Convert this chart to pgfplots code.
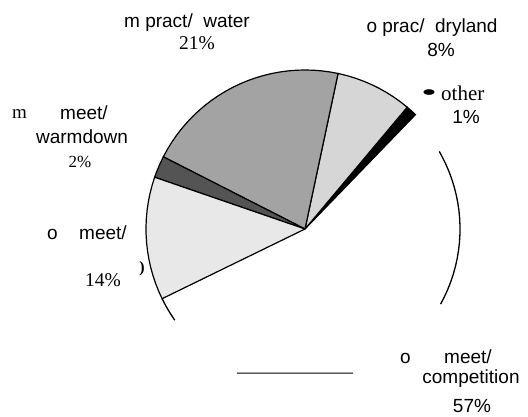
\documentclass[border=0pt]{standalone}
\usepackage{pgfplots}
\pgfplotsset{compat=1.18}
\usepgfplotslibrary{polar}
\usepackage{fontspec}
\setmainfont{Liberation Serif}
\newfontfamily\sans{Liberation Sans}
\newfontfamily\serif{Liberation Serif}
\definecolor{waterc}{gray}{0.64}
\definecolor{dryc}{gray}{0.84}
\definecolor{meetc}{gray}{0.91}
\definecolor{warmc}{gray}{0.33}
\begin{document}
\begin{tikzpicture}[x=1pt,y=1pt]
\path[use as bounding box] (0,0) rectangle (528,417);
\begin{polaraxis}[at={(305pt,188pt)}, anchor=center,
  scale only axis, width=318pt, height=318pt,
  xmin=0, xmax=360, ymin=0, ymax=1, enlargelimits=false,
  hide axis, clip=false]
% other 1%
\addplot[fill=black, draw=black, line width=1.2pt, mark=none] coordinates {(0,0) (46,1) (48,1) (50,1) (0,0)};
% prac/dryland 8%
\addplot[fill=dryc, draw=black, line width=1.2pt, mark=none] coordinates {(0,0) (50,1) (53,1) (56,1) (59,1) (62,1) (65,1) (68,1) (71,1) (74,1) (77,1) (78,1) (0,0)};
% pract/water 21%
\addplot[fill=waterc, draw=black, line width=1.2pt, mark=none] coordinates {(0,0) (78,1) (81,1) (84,1) (87,1) (90,1) (93,1) (96,1) (99,1) (102,1) (105,1) (108,1) (111,1) (114,1) (117,1) (120,1) (123,1) (126,1) (129,1) (132,1) (135,1) (138,1) (141,1) (144,1) (147,1) (150,1) (153,1) (0,0)};
% meet/warmdown 2%
\addplot[fill=warmc, draw=black, line width=1.2pt, mark=none] coordinates {(0,0) (153,1) (156,1) (159,1) (161,1) (0,0)};
% meet 14%
\addplot[fill=meetc, draw=black, line width=1.2pt, mark=none] coordinates {(0,0) (161,1) (164,1) (167,1) (170,1) (173,1) (176,1) (179,1) (182,1) (185,1) (188,1) (191,1) (194,1) (197,1) (200,1) (203,1) (206,1) (0,0)};
% remaining outline pieces of meet/competition 57%
\addplot[draw=black, line width=1.3pt, mark=none] coordinates {(206,1) (209,1) (212,1) (215,1)};
\addplot[draw=black, line width=1.3pt, mark=none] coordinates {(-29,0.975) (-26,0.975) (-23,0.975) (-20,0.975) (-17,0.975) (-14,0.975) (-11,0.975) (-8,0.975) (-5,0.975) (-2,0.975) (1,0.975) (4,0.975) (7,0.975) (10,0.975) (13,0.975) (16,0.975) (19,0.975) (22,0.975) (25,0.975) (28,0.975) (30,0.975)};
\addplot[data cs=cart, draw=black, line width=1pt, mark=none] coordinates {(-0.428,-0.906) (0.302,-0.906)};
\end{polaraxis}
\tikzset{lab/.style={anchor=base, inner sep=0pt}}
\def\sf{\sans\fontsize{19}{22}\selectfont}
% water
\node[lab, font=\sf] at (187,389) {m pract/\ \ water};
\node[lab, font=\serif\fontsize{19.5}{20}\selectfont] at (197,367) {21\%};
% dryland
\node[lab, font=\sf] at (432,384) {o prac/\ \ dryland};
\node[lab, font=\sf] at (441,360) {8\%};
% other
\node[anchor=center, inner sep=0pt, font=\serif\fontsize{24}{24}\selectfont] at (429,322) {\scalebox{1.9}[1]{•}};
\node[anchor=base west, inner sep=0pt, font=\serif\fontsize{21}{22}\selectfont] at (441,316) {other};
\node[lab, font=\sf] at (466,293) {1\%};
% warmdown
\node[anchor=base west, inner sep=0pt, font=\serif\fontsize{19}{20}\selectfont] at (12,298) {m};
\node[lab, font=\sf] at (84,297) {meet/};
\node[lab, font=\sf] at (82,273) {warmdown};
\node[lab, font=\serif\fontsize{17}{18}\selectfont] at (80,249) {2\%};
% meet
\node[anchor=base west, inner sep=0pt, font=\sf] at (47,177) {o};
\node[lab, font=\sf] at (103,177) {meet/};
\node[lab, font=\serif\fontsize{19.5}{20}\selectfont] at (103,130) {14\%};
\node[anchor=center, inner sep=0pt, font=\serif\bfseries\fontsize{16}{16}\selectfont] at (142,148) {)};
% competition
\node[anchor=base west, inner sep=0pt, font=\sf] at (400,53) {o};
\node[lab, font=\sf] at (468,53) {meet/};
\node[lab, font=\sf] at (471,33) {competition};
\node[lab, font=\sf] at (472,4) {57\%};
\end{tikzpicture}
\end{document}
